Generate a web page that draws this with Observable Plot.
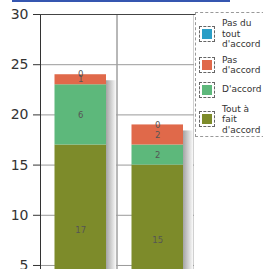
<!DOCTYPE html>
<html><head><meta charset="utf-8">
<script src="https://cdn.jsdelivr.net/npm/d3@7"></script>
<script src="https://cdn.jsdelivr.net/npm/@observablehq/plot@0.6"></script>
<style>
body{margin:0;background:#fff;}
#wrap{position:relative;width:263px;height:269px;overflow:hidden;font-family:"DejaVu Sans",sans-serif;background:#fff;}
#title{position:absolute;left:12px;top:0;width:218px;height:0;border-top:2px solid #3556b0;}
#chart{position:absolute;left:0;top:0;}
#legend{position:absolute;left:195px;top:12px;width:80px;height:125px;border-left:1px dashed #999;border-top:1px dashed #999;border-bottom:1px dashed #999;box-sizing:border-box;padding:5px 0 0 3px;background:#fff;}
.item{display:flex;align-items:center;margin-bottom:5px;min-height:18px;}
.sw{width:16px;height:16px;box-sizing:border-box;border:1px dashed #666;padding:2px;flex:none;}
.sw div{width:100%;height:100%;}
.lab{margin-left:7px;font-size:9px;line-height:10.5px;color:#333;white-space:pre-line;}
</style></head>
<body>
<div id="wrap">
  <div id="chart"></div>
  <div id="title"></div>
  <div id="legend"></div>
</div>
<script>
const categories = ["Groupe 1", "Groupe 2"];
const series = ["Tout à fait d'accord", "D'accord", "Pas d'accord", "Pas du tout d'accord"];
const group1 = [17, 6, 1, 0];
const group2 = [15, 2, 2, 0];
const yTicks = [5, 10, 15, 20, 25, 30];
const legendLabels = ["Tout à\nfait\nd'accord", "D'accord", "Pas\nd'accord", "Pas du\ntout\nd'accord"];
const colors = ["#7d8b2a", "#5db87b", "#e0694a", "#2b9ec6"];

const groups = [group1, group2];
const rows = [];
groups.forEach((vals, i) => vals.forEach((v, j) => rows.push({cat: categories[i], series: series[j], value: v})));
const totals = categories.map((c, i) => ({cat: c, total: d3.sum(groups[i])}));

const shade = () => {
  const defs = d3.create("svg:defs");
  const g = defs.append("linearGradient").attr("id", "shade").attr("x1", "0").attr("x2", "1").attr("y1", "0").attr("y2", "0");
  g.append("stop").attr("offset", "0%").attr("stop-color", "#a4a4a4");
  g.append("stop").attr("offset", "100%").attr("stop-color", "#fafafa");
  return defs.node();
};

const chart = Plot.plot({
  width: 196, height: 269, marginLeft: 40, marginRight: 2, marginTop: 14, marginBottom: 0,
  style: {background: "transparent", fontFamily: "DejaVu Sans, sans-serif", overflow: "visible"},
  x: {domain: categories, padding: 0, axis: null},
  y: {domain: [4.6, 30], axis: null},
  color: {domain: series, range: colors},
  marks: [
    shade,
    Plot.gridY(yTicks, {stroke: "#9a9a9a", strokeOpacity: 1}),
    Plot.barY(categories, {x: d => d, y1: 30, y2: 0, fill: "none", stroke: "#a0a0a0", clip: true}),
    Plot.barY(totals, {x: "cat", y: "total", fill: "url(#shade)", insetLeft: 66, insetRight: 1, insetTop: 6, clip: true}),
    Plot.barY(rows, {x: "cat", y: "value", fill: "series", insetLeft: 14.5, insetRight: 11, clip: true}),
    Plot.text(rows, Plot.stackY({x: "cat", y: "value", z: "series", text: "value", fill: "#555", fontSize: 8.5, dx: 1.75})),
    Plot.frame({anchor: "left", stroke: "#333"}),
    Plot.frame({anchor: "top", stroke: "#444"}),
    Plot.axisY(yTicks, {tickSize: 7, tickPadding: 5, fontSize: 14, color: "#333"})
  ]
});
document.getElementById("chart").append(chart);

const legend = d3.select("#legend");
series.map((s, i) => ({s, label: legendLabels[i], color: colors[i]})).reverse().forEach(d => {
  const it = legend.append("div").attr("class", "item");
  it.append("div").attr("class", "sw").append("div").style("background", d.color);
  it.append("div").attr("class", "lab").text(d.label);
});
</script>
</body></html>
